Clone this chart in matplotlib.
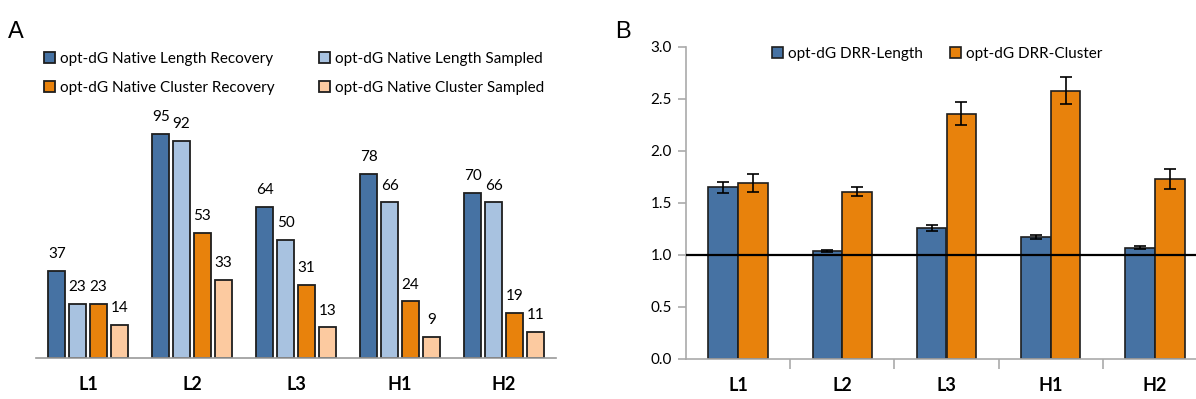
import numpy as np
import matplotlib.pyplot as plt

plt.rcParams['font.family'] = ['Lato', 'DejaVu Sans']

loops = ['L1', 'L2', 'L3', 'H1', 'H2']

# panel A: recovery / sampled counts
len_recovery = [37, 95, 64, 78, 70]
len_sampled = [23, 92, 50, 66, 66]
clu_recovery = [23, 53, 31, 24, 19]
clu_sampled = [14, 33, 13, 9, 11]

# panel B: DRR ratios with error
drr_length = [1.65, 1.04, 1.26, 1.17, 1.07]
drr_length_err = [0.055, 0.01, 0.03, 0.02, 0.015]
drr_cluster = [1.69, 1.61, 2.36, 2.58, 1.73]
drr_cluster_err = [0.085, 0.045, 0.11, 0.13, 0.095]

blue = '#4672a3'
light_blue = '#a8c2e0'
orange = '#e8820c'
peach = '#fccaa0'
edge = '#1e1e1e'

W, H = 1196, 399
fig = plt.figure(figsize=(W / 100, H / 100), dpi=100)

def box(l, r, t, b):
    return [l / W, (H - b) / H, (r - l) / W, (b - t) / H]

# ---- panel A
axA = fig.add_axes(box(36, 556, 100, 358))
x = np.arange(len(loops))
series = [(len_recovery, blue, 'opt-dG Native Length Recovery'),
          (len_sampled, light_blue, 'opt-dG Native Length Sampled'),
          (clu_recovery, orange, 'opt-dG Native Cluster Recovery'),
          (clu_sampled, peach, 'opt-dG Native Cluster Sampled')]
offsets = [-0.3, -0.1, 0.1, 0.3]
handles = []
for (vals, col, lab), off in zip(series, offsets):
    bars = axA.bar(x + off, vals, width=0.165, color=col, edgecolor=edge,
                   linewidth=1.3, label=lab)
    axA.bar_label(bars, padding=7, fontsize=11)
    handles.append(bars)
axA.set_xlim(-0.5, 4.5)
axA.set_ylim(0, (358 - 100) / 2.36)
for s in ['top', 'right', 'left']:
    axA.spines[s].set_visible(False)
axA.spines['bottom'].set_color('#999999')
axA.spines['bottom'].set_linewidth(1.2)
axA.set_yticks([])
axA.set_xticks(x)
axA.set_xticklabels(loops, fontsize=13, fontweight='bold')
axA.tick_params(axis='x', length=0, pad=13)

order = [0, 2, 1, 3]
fig.legend([handles[i] for i in order], [series[i][2] for i in order],
           loc='upper left', bbox_to_anchor=(44 / W, 1 - 52 / H), ncol=2,
           frameon=False, fontsize=11, handlelength=0.75, handleheight=0.75,
           handletextpad=0.3, columnspacing=2.9, labelspacing=0.95,
           borderpad=0, borderaxespad=0)

# ---- panel B
axB = fig.add_axes(box(686, 1207, 47, 359))
bw = 0.285
err_kw = dict(ecolor='black', elinewidth=1.2, capsize=4, capthick=1.2)
b1 = axB.bar(x - bw / 2, drr_length, width=bw, yerr=drr_length_err,
             color=blue, edgecolor=edge, linewidth=1.2, error_kw=err_kw,
             label='opt-dG DRR-Length')
b2 = axB.bar(x + bw / 2, drr_cluster, width=bw, yerr=drr_cluster_err,
             color=orange, edgecolor=edge, linewidth=1.2, error_kw=err_kw,
             label='opt-dG DRR-Cluster')
axB.axhline(1.0, color='black', linewidth=1.6, zorder=3)
axB.set_xlim(-0.5, 4.5)
axB.set_ylim(0, 3.0)
yt = np.arange(0, 3.01, 0.5)
axB.set_yticks(yt)
axB.set_yticklabels(['%.1f' % v for v in yt], fontsize=11)
axB.set_xticks(x)
axB.set_xticklabels(loops, fontsize=13, fontweight='bold')
axB.set_xticks(np.arange(0.5, 4.5, 1), minor=True)
axB.tick_params(axis='x', which='major', length=0, pad=13)
axB.tick_params(axis='x', which='minor', length=7, color='#aaaaaa', width=1.2)
axB.tick_params(axis='y', length=6, color='#aaaaaa', width=1.2, pad=4)
for s in ['top', 'right']:
    axB.spines[s].set_visible(False)
for s in ['left', 'bottom']:
    axB.spines[s].set_color('#aaaaaa')
    axB.spines[s].set_linewidth(1.2)
axB.legend(handles=[b1, b2], loc='upper left',
           bbox_to_anchor=(((772 - 686) / (1207 - 686)), 1.0), ncol=2,
           frameon=False, fontsize=11, handlelength=0.75, handleheight=0.75,
           handletextpad=0.3, columnspacing=1.75, borderpad=0, borderaxespad=0)

fig.text(8 / W, 1 - 38 / H, 'A', fontsize=17, family='Liberation Sans')
fig.text(615 / W, 1 - 38 / H, 'B', fontsize=17, family='Liberation Sans')

fig.savefig('out.png', dpi=100)
